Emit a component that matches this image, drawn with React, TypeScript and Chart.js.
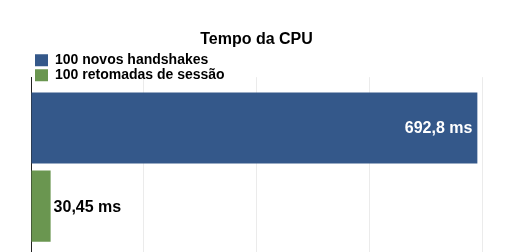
import React, { useEffect, useRef } from "react";
import { Chart, registerables } from "chart.js";

Chart.register(...registerables);

const categories = ["Tempo da CPU"];
const seriesNames = ["100 novos handshakes", "100 retomadas de sessão"];
const handshakeValues = [692.8];
const resumedValues = [30.45];
const valueLabels = ["692,8 ms", "30,45 ms"];
const xMax = 700;
const xStep = 175;

const FONT = "'Liberation Sans', Arial, sans-serif";

const legendWrapPlugin = {
  id: "legendWrap",
  beforeDraw(chart: any) {
    const lg = chart.legend;
    if (lg) {
      lg.left = lg.left + 3;
      lg.right = lg.left + 220;
      lg.bottom = lg.top + 45;
    }
  },
};

const valueLabelPlugin = {
  id: "valueLabels",
  afterDatasetsDraw(chart: any) {
    const ctx = chart.ctx;
    ctx.save();
    ctx.font = `bold 16px ${FONT}`;
    ctx.textBaseline = "middle";
    chart.data.datasets.forEach((ds: any, i: number) => {
      const meta = chart.getDatasetMeta(i);
      meta.data.forEach((bar: any) => {
        const label = valueLabels[i];
        const w = ctx.measureText(label).width;
        const barLen = bar.x - bar.base;
        if (barLen > w + 10) {
          ctx.fillStyle = "#ffffff";
          ctx.textAlign = "right";
          ctx.fillText(label, bar.x - 5, bar.y + 1);
        } else {
          ctx.fillStyle = "#000000";
          ctx.textAlign = "left";
          ctx.fillText(label, bar.x + 3, bar.y + 1);
        }
      });
    });
    ctx.restore();
  },
};

export default function App() {
  const ref = useRef<HTMLCanvasElement | null>(null);
  useEffect(() => {
    if (!ref.current) return;
    const chart = new Chart(ref.current, {
      type: "bar",
      data: {
        labels: categories,
        datasets: [
          {
            label: seriesNames[0],
            data: handshakeValues,
            backgroundColor: "#34588a",
            borderWidth: 0,
          },
          {
            label: seriesNames[1],
            data: resumedValues,
            backgroundColor: "#6a9650",
            borderWidth: 0,
          },
        ],
      },
      options: {
        indexAxis: "y",
        animation: false,
        responsive: false,
        maintainAspectRatio: false,
        layout: { padding: { left: 31, right: 26, top: 0, bottom: 0 } },
        datasets: {
          bar: { categoryPercentage: 0.87, barPercentage: 0.91 },
        },
        scales: {
          x: {
            min: 0,
            max: xMax,
            ticks: { display: false, stepSize: xStep },
            grid: { color: "#ebebeb", drawTicks: false, lineWidth: 1 },
            border: { display: false },
          },
          y: {
            ticks: { display: false },
            grid: { display: false, drawTicks: false },
            border: { display: true, color: "#222222", width: 1 },
          },
        },
        plugins: {
          title: {
            display: true,
            text: "Tempo da CPU",
            color: "#000000",
            font: { family: FONT, size: 16, weight: "bold" },
            padding: { top: 30, bottom: 3 },
          },
          legend: {
            display: true,
            position: "top",
            align: "start",
            labels: {
              color: "#000000",
              font: { family: FONT, size: 14, weight: "bold" },
              boxWidth: 13,
              boxHeight: 12,
              padding: 1,
            },
          },
          tooltip: { enabled: false },
        },
      },
      plugins: [legendWrapPlugin, valueLabelPlugin],
    });
    return () => chart.destroy();
  }, []);
  return (
    <div style={{ position: "fixed", left: 0, top: 0, width: 508, height: 257 }}>
      <canvas ref={ref} width={508} height={257} style={{ display: "block" }} />
    </div>
  );
}
